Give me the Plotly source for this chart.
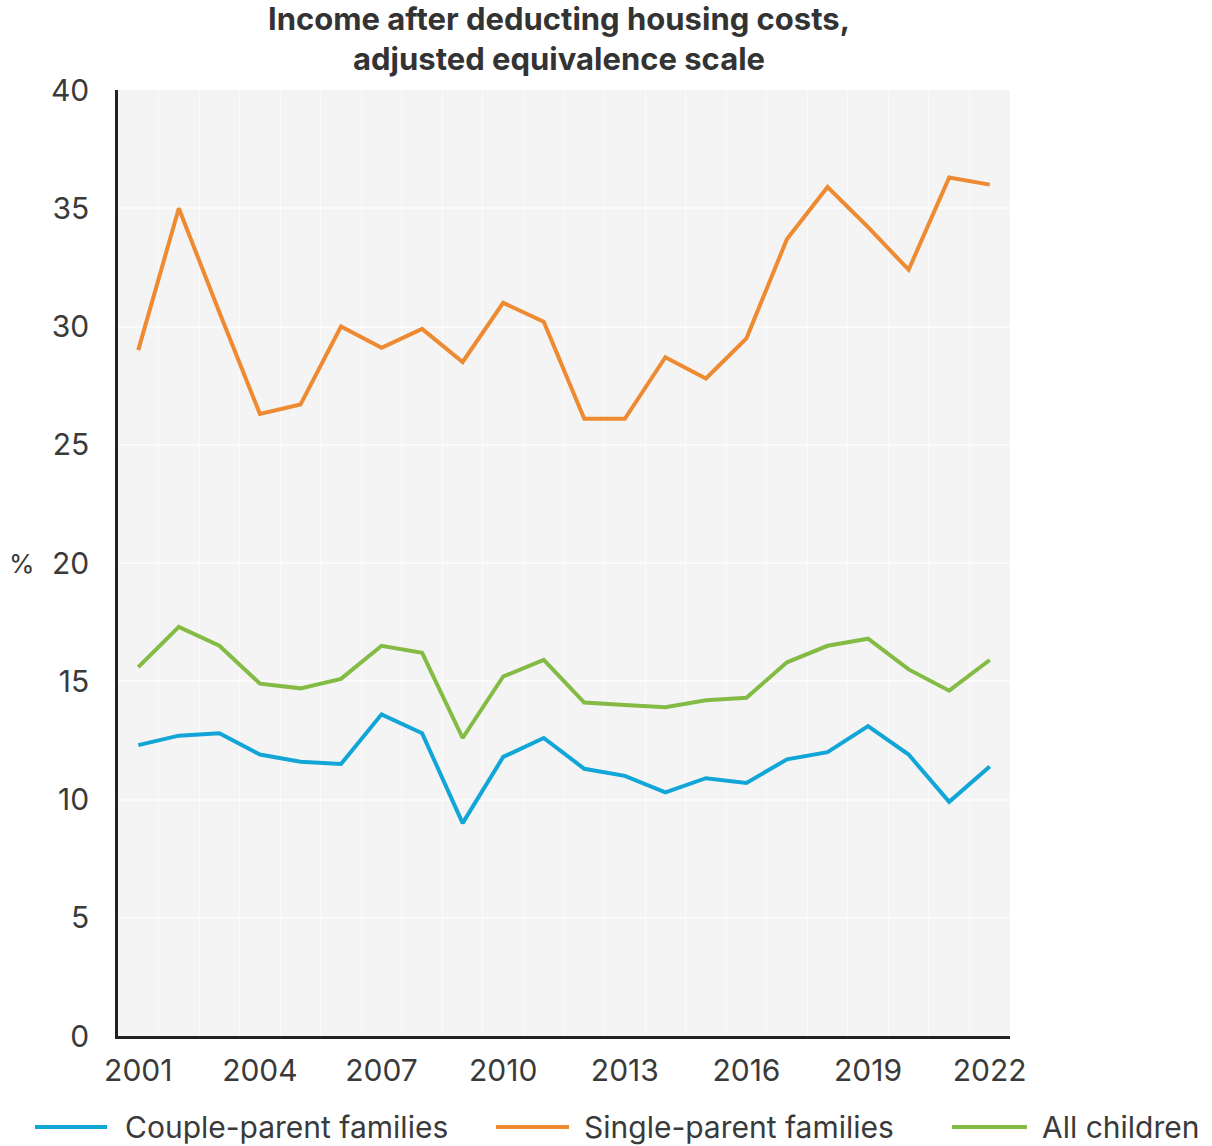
import plotly.graph_objects as go

years = list(range(2001, 2023))
couple_parent = [12.3, 12.7, 12.8, 11.9, 11.6, 11.5, 13.6, 12.8, 9.0, 11.8, 12.6,
                 11.3, 11.0, 10.3, 10.9, 10.7, 11.7, 12.0, 13.1, 11.9, 9.9, 11.4]
single_parent = [29.0, 35.0, 30.6, 26.3, 26.7, 30.0, 29.1, 29.9, 28.5, 31.0, 30.2,
                 26.1, 26.1, 28.7, 27.8, 29.5, 33.7, 35.9, 34.2, 32.4, 36.3, 36.0]
all_children = [15.6, 17.3, 16.5, 14.9, 14.7, 15.1, 16.5, 16.2, 12.6, 15.2, 15.9,
                14.1, 14.0, 13.9, 14.2, 14.3, 15.8, 16.5, 16.8, 15.5, 14.6, 15.9]

series_names = ["Couple-parent families", "Single-parent families", "All children"]
series_colors = ["#12a5d8", "#ee8a31", "#84bb45"]
series_values = [couple_parent, single_parent, all_children]

x_ticks = [2001, 2004, 2007, 2010, 2013, 2016, 2019, 2022]
y_ticks = [0, 5, 10, 15, 20, 25, 30, 35, 40]

title_text = "<b>Income after deducting housing costs,<br>adjusted equivalence scale</b>"

FONT = "Inter"
TXT = "#3a3a3a"
fig = go.Figure()
for name, color, vals in zip(series_names, series_colors, series_values):
    fig.add_trace(go.Scatter(x=years, y=vals, mode="lines", name=name,
                             line=dict(color=color, width=4), showlegend=False))

PW, PH = 892, 946  # plot area px
fig.update_layout(
    width=1212, height=1146,
    margin=dict(l=118, r=202, t=90, b=110),
    paper_bgcolor="white", plot_bgcolor="#f4f4f4",
    font=dict(family=FONT, size=30, color=TXT),
)
fig.update_xaxes(range=[2000.5, 2022.5], tickvals=x_ticks, ticktext=[str(v) for v in x_ticks],
                 showgrid=False, zeroline=False, showline=True, linecolor="#222222", linewidth=2.5,
                 ticks="", ticklabelstandoff=6,
                 minor=dict(tick0=2000.5, dtick=1, showgrid=True, gridcolor="#fbfbfb", gridwidth=1.2))
fig.update_yaxes(range=[0, 40], tickvals=y_ticks, showgrid=True, gridcolor="#fbfbfb", gridwidth=1.5,
                 zeroline=False, showline=True, linecolor="#222222", linewidth=2.5,
                 ticks="", ticklabelstandoff=20)

# title
fig.add_annotation(text=title_text, xref="paper", yref="paper",
                   x=(559 - 118) / PW, y=(1036 - 38.5) / PH,
                   showarrow=False, xanchor="center", yanchor="middle", align="center",
                   font=dict(family=FONT, size=31, color="#333333"))

# y-axis unit label
fig.add_annotation(text="%", xref="paper", yref="y", x=(22 - 118) / PW, y=20,
                   showarrow=False, xanchor="center", yanchor="middle",
                   font=dict(family=FONT, size=26, color=TXT))

# manual legend
leg_y = (1036 - 1127) / PH
line_spans = [(35, 107), (496, 569), (952, 1027)]
text_starts = [123, 582, 1040]
for name, color, (a, b), tx in zip(series_names, series_colors, line_spans, text_starts):
    fig.add_shape(type="line", xref="paper", yref="paper",
                  x0=(a - 118) / PW, x1=(b - 118) / PW, y0=leg_y, y1=leg_y,
                  line=dict(color=color, width=4))
    fig.add_annotation(text=name, xref="paper", yref="paper", x=(tx - 118) / PW, y=leg_y,
                       showarrow=False, xanchor="left", yanchor="middle",
                       font=dict(family=FONT, size=30, color=TXT))

fig.write_html("out.html")
